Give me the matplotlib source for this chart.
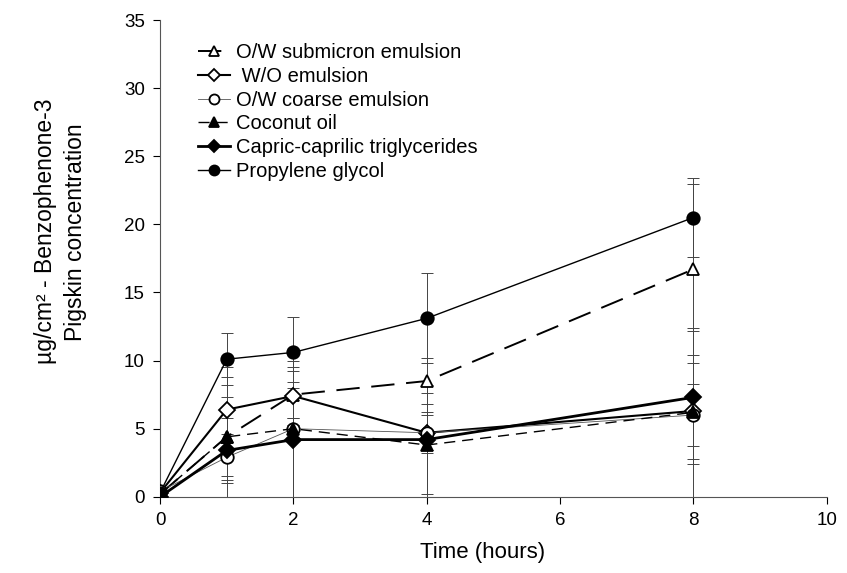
import matplotlib
matplotlib.use("Agg")
import matplotlib.pyplot as plt
import numpy as np

plt.rcParams["font.family"] = ["Liberation Sans", "DejaVu Sans"]

hours = [0, 1, 2, 4, 8]

submicron = [0.2, 4.4, 7.5, 8.5, 16.7]
submicron_err = [0, 2.9, 1.7, 1.7, 6.3]
wo = [0.3, 6.4, 7.4, 4.7, 6.3]
wo_err = [0, 3.1, 2.1, 1.5, 3.5]
coarse = [0.4, 2.9, 5.0, 4.7, 6.0]
coarse_err = [0, 1.7, 0.8, 1.3, 2.3]
coconut = [0.2, 4.4, 5.0, 3.8, 6.2]
coconut_err = [0, 4.4, 5.0, 3.8, 6.2]
capric = [0.0, 3.4, 4.2, 4.2, 7.3]
capric_err = [0, 2.4, 4.2, 4.0, 4.9]
propylene = [0.3, 10.1, 10.6, 13.1, 20.5]
propylene_err = [0, 1.9, 2.6, 3.3, 2.9]

series = [
    ("O/W submicron emulsion", submicron, submicron_err,
     dict(marker="^", mfc="white", ls=(0, (12, 6)), lw=1.4)),
    (" W/O emulsion", wo, wo_err,
     dict(marker="D", mfc="white", ls="-", lw=1.5, ms=8)),
    ("O/W coarse emulsion", coarse, coarse_err,
     dict(marker="o", mfc="white", ls="-", lw=0.6, color="#555555", mec="black")),
    ("Coconut oil", coconut, coconut_err,
     dict(marker="^", mfc="black", ls=(0, (8, 5)), lw=1.0)),
    ("Capric-caprilic triglycerides", capric, capric_err,
     dict(marker="D", mfc="black", ls="-", lw=2.0, ms=8)),
    ("Propylene glycol", propylene, propylene_err,
     dict(marker="o", mfc="black", ls="-", lw=1.0)),
]

fig = plt.figure(figsize=(8.47, 5.73), dpi=100, facecolor="white")
ax = fig.add_axes([0.189, 0.133, 0.787, 0.832])

for label, y, err, style in series:
    style = dict(style)
    color = style.pop("color", "black")
    style.setdefault("ms", 9)
    style.setdefault("mec", "black")
    ax.errorbar(hours, y, yerr=err, fmt="none", ecolor="#444444",
                elinewidth=0.7, capsize=4, capthick=0.7, zorder=1)
    ax.plot(hours, y, color=color, mew=1.3, label=label, zorder=3, **style)

ax.set_xlim(0, 10)
ax.set_ylim(0, 35)
ax.set_xticks(np.arange(0, 11, 2))
ax.set_yticks(np.arange(0, 36, 5))
ax.tick_params(direction="out", length=5, labelsize=13.5, width=0.8, pad=6)
ax.spines["top"].set_visible(False)
ax.spines["right"].set_visible(False)
for s in ("left", "bottom"):
    ax.spines[s].set_linewidth(0.8)
    ax.spines[s].set_color("#555555")

ax.set_xlabel("Time (hours)", fontsize=16)
ax.xaxis.set_label_coords(0.484, -0.095)
ax.set_ylabel("µg/cm² - Benzophenone-3\nPigskin concentration", fontsize=16.5,
              linespacing=1.4)
ax.yaxis.set_label_coords(-0.11, 0.556)

ax.legend(loc="upper left", bbox_to_anchor=(0.03, 0.99), frameon=False,
          fontsize=14.5, handlelength=1.6, labelspacing=0.24, handletextpad=0.3,
          markerscale=0.8)

fig.savefig("out.png", dpi=100, facecolor="white")
plt.close(fig)
